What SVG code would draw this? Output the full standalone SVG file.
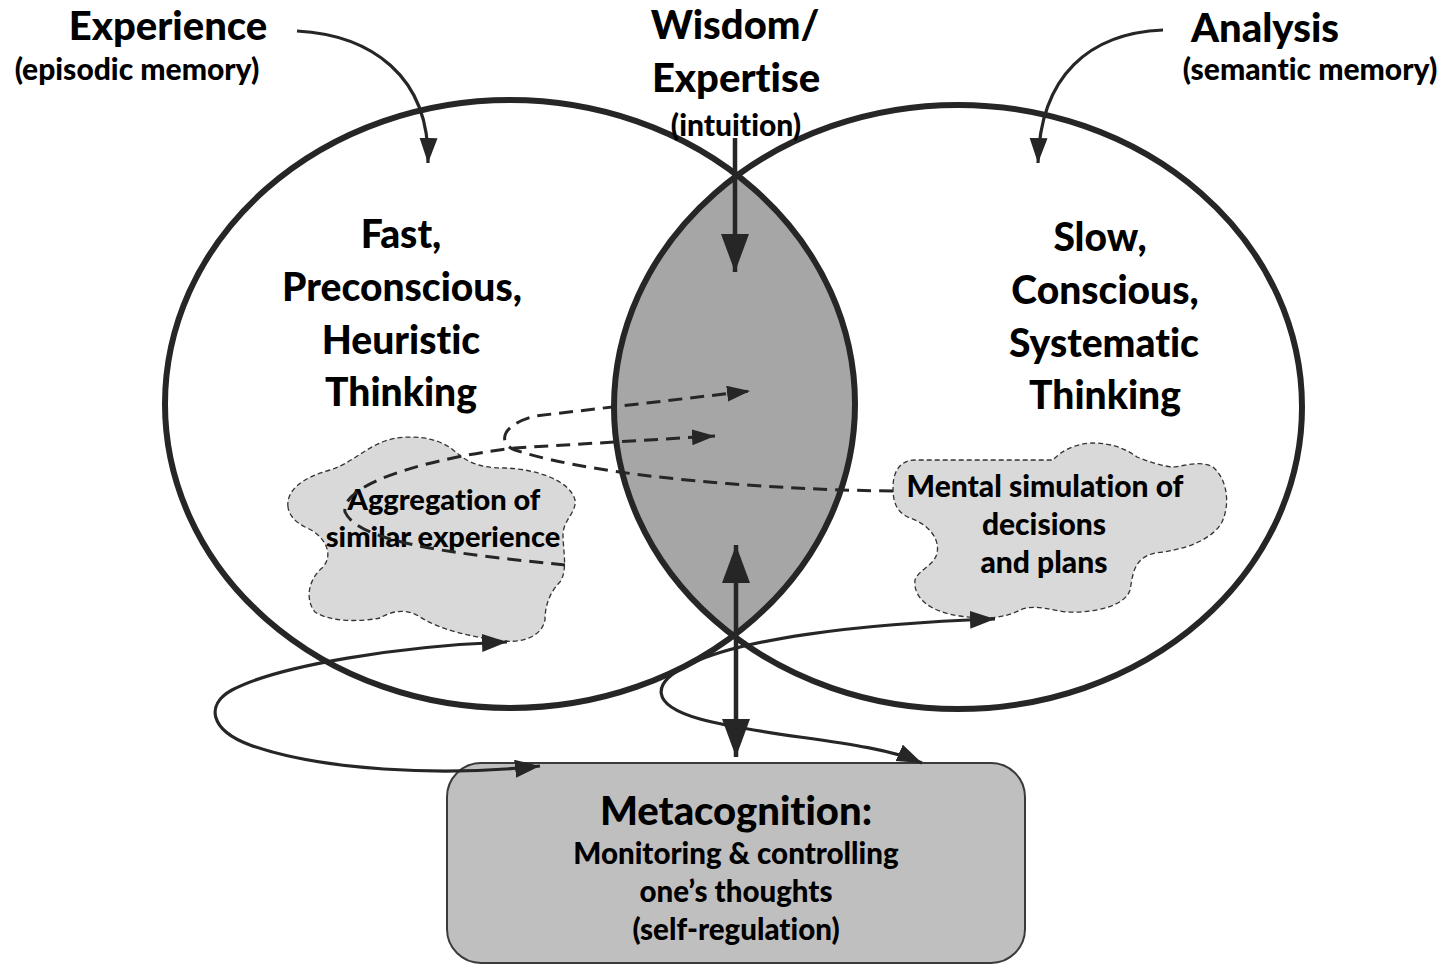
<svg xmlns="http://www.w3.org/2000/svg" width="1453" height="966" viewBox="0 0 1453 966">
<style>
  text { font-family: Lato, "Open Sans", "Liberation Sans", sans-serif; font-weight: 900; fill: #000; text-anchor: middle; font-variant-ligatures: none; }
  .big { font-size: 40px; }
  .mid { font-size: 39px; }
  .small { font-size: 30px; }
  .cloudtxt { font-size: 29px; }
  .cloudtxt2 { font-size: 30px; }
  .meta { font-size: 40px; }
  .metasub { font-size: 29.5px; }
  .circle { fill: none; stroke: #262626; stroke-width: 6; }
  .cloud { fill: #d9d9d9; stroke: #333; stroke-width: 1.3; stroke-dasharray: 5 3; }
  .solid { fill: none; stroke: #262626; stroke-width: 3.2; }
  .dash { fill: none; stroke: #262626; stroke-width: 3; stroke-dasharray: 14 8; }
  .thick { fill: none; stroke: #262626; stroke-width: 4.5; }
</style>
<defs>
  <marker id="ahBig" markerUnits="userSpaceOnUse" markerWidth="40" markerHeight="30" refX="38" refY="14" orient="auto-start-reverse" viewBox="0 0 40 30">
    <path d="M0,0 L38,14 L0,28 Z" fill="#262626"/>
  </marker>
  <marker id="ahMid" markerUnits="userSpaceOnUse" markerWidth="26" markerHeight="20" refX="25" refY="9" orient="auto-start-reverse" viewBox="0 0 26 20">
    <path d="M0,0 L25,9 L0,18 Z" fill="#262626"/>
  </marker>
  <marker id="ahDash" markerUnits="userSpaceOnUse" markerWidth="26" markerHeight="18" refX="23" refY="8" orient="auto" viewBox="0 0 26 18">
    <path d="M0,0 L23,8 L0,16 Z" fill="#262626"/>
  </marker>
  <clipPath id="leftClip">
    <ellipse cx="510" cy="404" rx="345" ry="304"/>
  </clipPath>
</defs>

<g id="lens">
  <ellipse cx="958" cy="407" rx="344" ry="302" fill="#a6a6a6" clip-path="url(#leftClip)"/>
</g>
<g id="left-circle">
  <ellipse class="circle" cx="510" cy="404" rx="345" ry="304"/>
</g>
<g id="right-circle">
  <ellipse class="circle" cx="958" cy="407" rx="344" ry="302"/>
</g>

<g id="cloud-left">
  <path class="cloud" d="M 288 507 C 286 492, 300 478, 330 470 C 350 464, 365 448, 385 441 C 405 434, 435 436, 452 449 C 465 460, 475 468, 505 468 C 535 469, 570 480, 575 500 C 577 512, 563 520, 563 535 C 563 550, 568 570, 560 582 C 550 592, 545 605, 545 620 C 542 635, 525 643, 505 641 C 475 638, 440 630, 420 617 C 405 607, 390 612, 380 618 C 360 622, 330 622, 315 612 C 305 600, 308 580, 322 568 C 335 555, 325 535, 305 527 C 295 522, 289 515, 288 507 Z"/>
  <text class="cloudtxt" x="444" y="510">Aggregation of</text>
  <text class="cloudtxt" x="443" y="547">similar experience</text>
</g>

<g id="cloud-right">
  <path class="cloud" d="M 893 487 C 893 500, 895 512, 910 518 C 930 525, 940 540, 937 553 C 935 565, 918 570, 915 580 C 913 598, 930 612, 960 616 C 985 620, 1005 618, 1020 610 C 1035 604, 1050 610, 1067 612 C 1095 613, 1125 606, 1130 590 C 1133 575, 1133 558, 1155 553 C 1185 550, 1212 540, 1222 522 C 1230 505, 1228 480, 1213 467 C 1200 460, 1185 466, 1173 467 C 1160 466, 1145 460, 1137 457 C 1125 448, 1110 443, 1093 443 C 1075 443, 1060 452, 1053 460 L 915 460 C 900 460, 893 472, 893 487 Z"/>
  <text class="cloudtxt2" x="1045" y="497">Mental simulation of</text>
  <text class="cloudtxt2" x="1044" y="535">decisions</text>
  <text class="cloudtxt2" x="1044" y="573">and plans</text>
</g>

<g id="label-experience">
  <text class="big" x="168" y="40">Experience</text>
  <text class="small" x="137" y="80">(episodic memory)</text>
</g>
<g id="label-wisdom">
  <text class="big" x="735" y="39">Wisdom/</text>
  <text class="big" x="736" y="92">Expertise</text>
  <text class="small" x="736" y="136">(intuition)</text>
</g>
<g id="label-analysis">
  <text class="big" x="1265" y="42">Analysis</text>
  <text class="small" x="1310" y="80">(semantic memory)</text>
</g>
<g id="label-fast">
  <text class="mid" x="401" y="248">Fast,</text>
  <text class="mid" x="402" y="301">Preconscious,</text>
  <text class="mid" x="401" y="354">Heuristic</text>
  <text class="mid" x="401" y="406">Thinking</text>
</g>
<g id="label-slow">
  <text class="mid" x="1100" y="251">Slow,</text>
  <text class="mid" x="1105" y="304">Conscious,</text>
  <text class="mid" x="1104" y="357">Systematic</text>
  <text class="mid" x="1105" y="409">Thinking</text>
</g>

<g id="metacognition">
  <rect x="447" y="763" width="578" height="200" rx="34" ry="34" fill="#bfbfbf" stroke="#3a3a3a" stroke-width="2"/>
  <text class="meta" x="736" y="825">Metacognition:</text>
  <text class="metasub" x="736" y="864">Monitoring &amp; controlling</text>
  <text class="metasub" x="736" y="902">one’s thoughts</text>
  <text class="metasub" x="736" y="940">(self-regulation)</text>
</g>

<g id="connectors">
  <path class="solid" d="M 297 31 C 370 35, 430 75, 428 163" marker-end="url(#ahMid)"/>
  <path class="solid" d="M 1163 30 C 1090 33, 1040 75, 1038 163" marker-end="url(#ahMid)"/>
  <path class="thick" d="M 735 138 L 735 272" marker-end="url(#ahBig)"/>
  <path class="thick" d="M 736 545 L 736 757" marker-start="url(#ahBig)" marker-end="url(#ahBig)"/>
  <path class="solid" d="M 507 642 C 400 646, 280 665, 232 690 C 205 705, 210 730, 250 745 C 320 770, 440 777, 540 766" marker-start="url(#ahMid)" marker-end="url(#ahMid)"/>
  <path class="solid" d="M 995 619 C 850 624, 740 640, 690 664 C 650 683, 650 705, 700 719 C 770 738, 870 740, 922 763" marker-start="url(#ahMid)" marker-end="url(#ahMid)"/>
  <path class="dash" d="M 565 565 C 470 555, 360 545, 345 512 C 340 480, 450 455, 515 448 L 715 436" marker-end="url(#ahDash)"/>
  <path class="dash" d="M 893 491 C 780 490, 600 478, 515 450 C 498 444, 500 425, 535 416 L 750 391" marker-end="url(#ahDash)"/>
</g>
</svg>
